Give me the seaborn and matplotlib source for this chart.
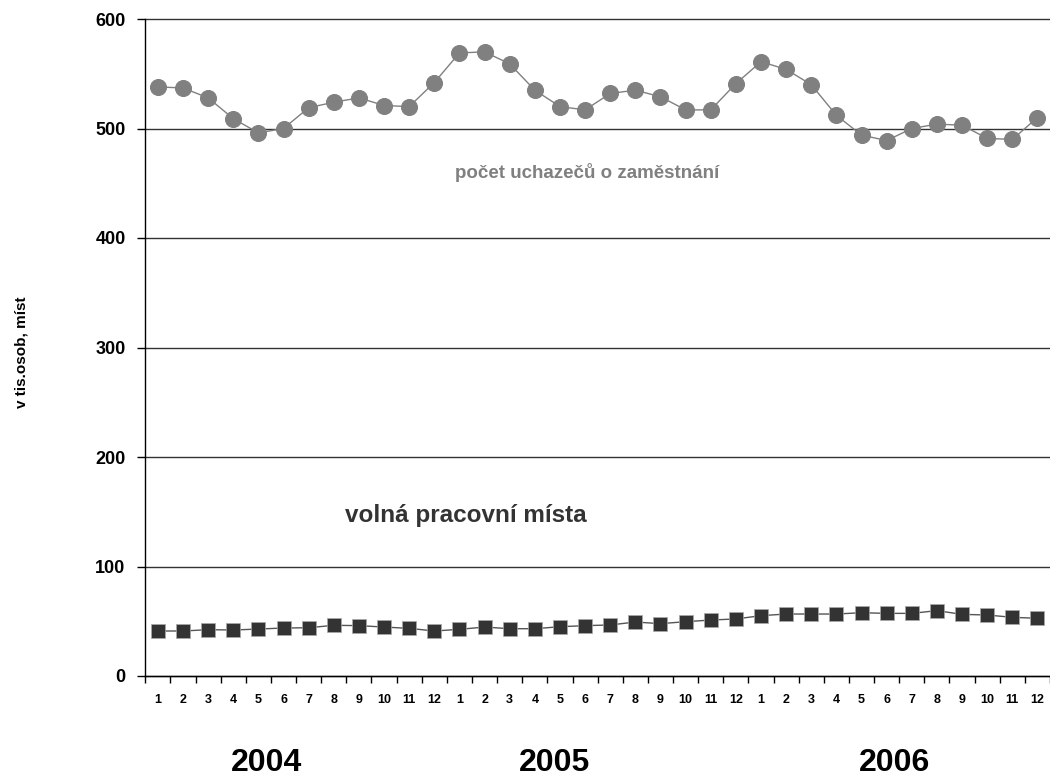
import matplotlib
matplotlib.use("Agg")
import matplotlib.pyplot as plt
import seaborn as sns
import pandas as pd

# months 2004-2006 (36 values)
months = list(range(1, 37))
month_labels = [str(m) for m in range(1, 13)] * 3
years = ["2004", "2005", "2006"]

# pocet uchazecu o zamestnani (v tis.)
uchazeci = [538, 537, 528, 509, 496, 500, 519, 524, 528, 521, 520, 542,
            569, 570, 559, 535, 520, 517, 532, 535, 529, 517, 517, 541,
            561, 554, 540, 512, 494, 489, 500, 504, 503, 491, 490, 510]

# volna pracovni mista (v tis.)
mista = [41.1, 41.1, 42.3, 42.0, 42.9, 43.8, 44.1, 46.3, 46.0, 44.7, 43.5, 41.1,
         42.6, 44.7, 43.2, 43.2, 45.0, 46.0, 46.6, 49.3, 47.8, 49.6, 51.1, 52.1,
         55.1, 56.6, 56.6, 56.6, 57.8, 57.2, 57.2, 59.7, 56.3, 55.7, 53.6, 52.7]

df = pd.DataFrame({"mesic": months, "uchazeci": uchazeci, "mista": mista})

sns.set_style("white")
plt.rcParams["font.family"] = ["Liberation Sans", "DejaVu Sans"]
plt.rcParams["text.color"] = "black"
plt.rcParams["xtick.color"] = "black"
plt.rcParams["ytick.color"] = "black"

fig = plt.figure(figsize=(10.5, 7.78), dpi=100)
ax = fig.add_axes([145 / 1050, 1 - 676 / 778, 1 - 145 / 1050, 657 / 778])

sns.lineplot(data=df, x="mesic", y="uchazeci", ax=ax, color="#808080",
             linewidth=1, marker="o", markersize=11.5,
             markerfacecolor="#808080", markeredgecolor="#808080", zorder=3)
sns.lineplot(data=df, x="mesic", y="mista", ax=ax, color="#555555",
             linewidth=1, marker="s", markersize=10.5,
             markerfacecolor="#333333", markeredgecolor="#aaaaaa",
             markeredgewidth=0.5, zorder=3)

ax.set_xlim(0.487, 36.12)
ax.set_ylim(0, 600)

# y axis
ax.set_yticks(range(0, 601, 100))
ax.set_yticklabels([str(v) for v in range(0, 601, 100)], fontsize=13, fontweight="bold")
ax.tick_params(axis="y", direction="out", length=6, width=1, color="black",
               labelcolor="black", pad=8, left=True)
ax.yaxis.grid(True, color="#333333", linewidth=1)
for gl in ax.get_ygridlines():
    gl.set_clip_on(False)

# x axis: labels at months, tick marks between months
ax.set_xticks(months)
ax.set_xticklabels(month_labels, fontsize=9, fontweight="bold")
ax.set_xticks([m + 0.5 for m in range(0, 37)], minor=True)
ax.tick_params(axis="x", which="major", length=0, pad=13, labelcolor="black")
ax.tick_params(axis="x", which="minor", direction="out", length=5, width=1,
               color="black", bottom=True)

ax.set_xlabel("")
ax.set_ylabel("")
for side in ["top", "right"]:
    ax.spines[side].set_visible(False)
for side in ["left", "bottom"]:
    ax.spines[side].set_color("black")
    ax.spines[side].set_linewidth(1)

# series labels
ax.text(18.1, 460, "počet uchazečů o zaměstnání", color="#808080",
        fontsize=13.5, fontweight="bold", ha="center", va="center")
ax.text(13.27, 147, "volná pracovní místa", color="#333333",
        fontsize=17.5, fontweight="bold", ha="center", va="center")

# axis title and years
fig.text(22 / 1050, 1 - 352 / 778, "v tis.osob, míst", rotation=90, color="black",
         fontsize=11, fontweight="bold", ha="center", va="center")
for yr, px in zip(years, [267, 555, 895]):
    fig.text(px / 1050, 1 - 763 / 778, yr, fontsize=23, fontweight="bold",
             color="black", ha="center", va="center")

fig.savefig("out.png", dpi=100)
